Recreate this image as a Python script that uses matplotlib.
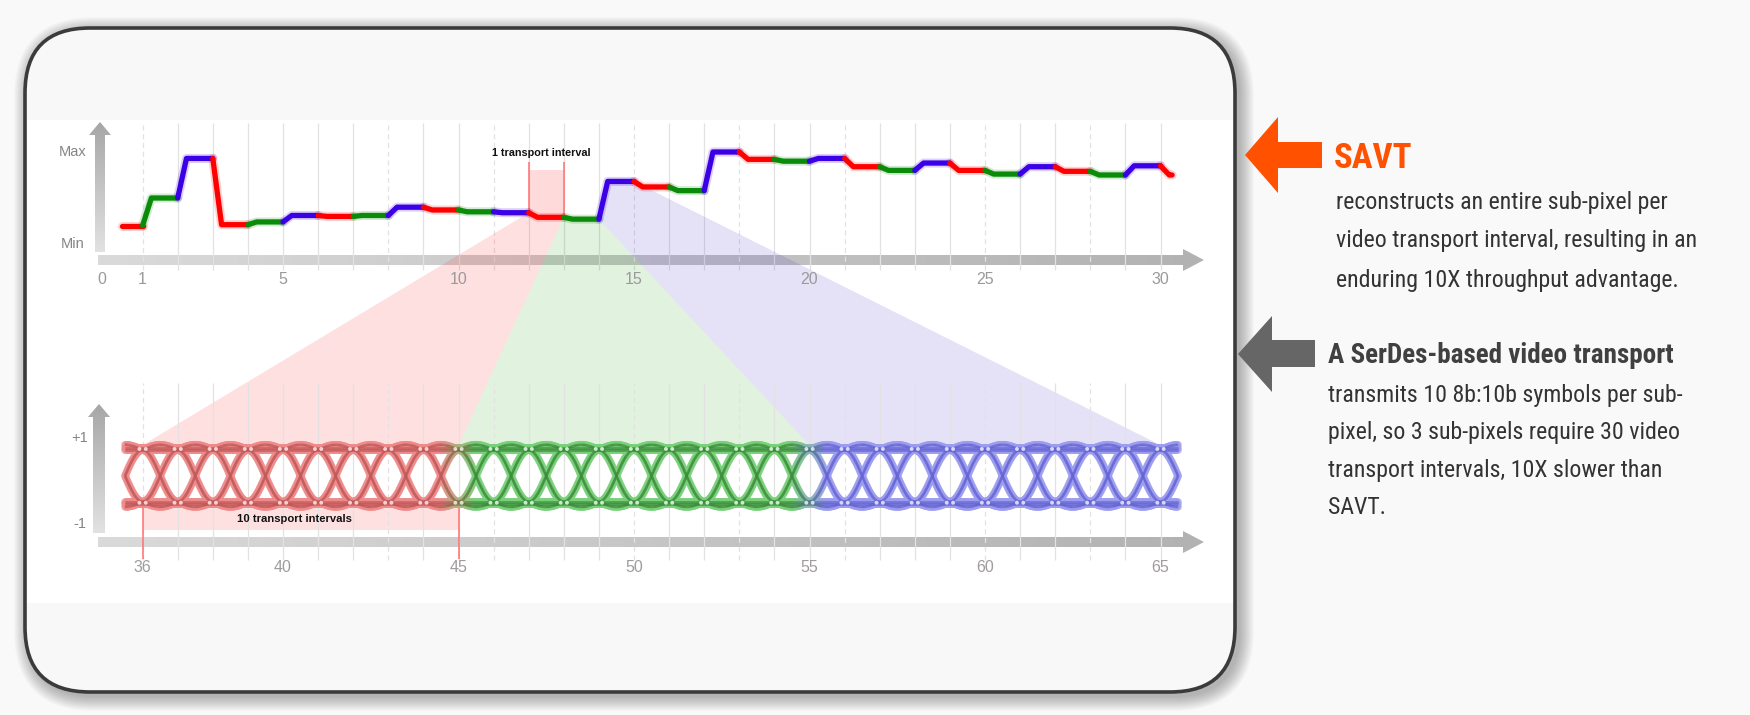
import numpy as np
import matplotlib.pyplot as plt
from matplotlib import font_manager
from matplotlib.patches import FancyBboxPatch, Polygon, Rectangle
from matplotlib.collections import LineCollection
from matplotlib.colors import to_rgb

# SAVT signal: one level per video transport interval (0 = Min, 100 = Max)
savt_levels = [20, 50, 93, 21, 24, 31, 30, 31, 40, 37, 35, 34, 29, 27, 68,
               62, 58, 100, 92, 90, 93, 84, 80, 88, 80, 76, 84, 79, 75, 85, 75]
savt_colors = ['#ff0000', '#0a8c0a', '#3c00e6']   # sub-pixels R, G, B
savt_ticks = [0, 1, 5, 10, 15, 20, 25, 30]
savt_grid = list(range(1, 31))
savt_dashed = [1, 8, 11, 15, 18, 21, 25, 28]
highlight = 12   # SAVT interval of the red sub-pixel that gets projected

# SerDes eye diagram: 10 transport intervals per sub-pixel
serdes_ticks = [36, 40, 45, 50, 55, 60, 65]
serdes_grid = list(range(36, 66))
serdes_dashed = [v + 35 for v in savt_dashed]
serdes_span = (35.5, 65.5)
serdes_bounds = [36, 45, 55, 65]   # red | green | blue
eye_core = ['#bf5858', '#3c8a3c', '#6464d2']
eye_glow = ['#ee8a8a', '#78d078', '#9c9cf0']
proj_colors = [('#ff2828', 0.14), ('#1ea014', 0.133), ('#3c1ec8', 0.13)]

savt_text = ['reconstructs an entire sub-pixel per',
             'video transport interval, resulting in an',
             'enduring 10X throughput advantage.']
serdes_text = ['transmits 10 8b:10b symbols per sub-',
               'pixel, so 3 sub-pixels require 30 video',
               'transport intervals, 10X slower than',
               'SAVT.']

# ---- layout (pixels) ----
W, H = 1750, 715
X0, XU = 107.5, 35.1          # pixel of interval 0, pixels per interval
TOP_Y0, TOP_YU = 244, 0.92    # pixel of level 0, pixels per level
BOT_Y0, BOT_YU = 475.85, 25.85
EYE_EDGE = 1.19
PINK_BOTTOM = -2.1


def has_font(name):
    try:
        font_manager.findfont(font_manager.FontProperties(family=name),
                              fallback_to_default=False)
        return True
    except ValueError:
        return False


chart_font = ['Liberation Sans', 'DejaVu Sans']
if has_font('Roboto Condensed'):
    side_font, sizes = 'Roboto Condensed', (25, 19.5, 17.2)
elif has_font('Liberation Sans Narrow'):
    side_font, sizes = 'Liberation Sans Narrow', (25.5, 20, 16.8)
else:
    side_font, sizes = 'Roboto', (22, 16.6, 13.8)

fig = plt.figure(figsize=(W / 100, H / 100), dpi=100, facecolor='#f9f9f9')

bg = fig.add_axes([0, 0, 1, 1], zorder=0)
bg.set_xlim(0, W)
bg.set_ylim(H, 0)
bg.set_axis_off()


def px_axes(l, t, r, b):
    ax = fig.add_axes([l / W, 1 - b / H, (r - l) / W, (b - t) / H], zorder=1)
    ax.set_axis_off()
    return ax


ax_top = px_axes(55, 115, 1215, 300)
ax_top.set_xlim((55 - X0) / XU, (1215 - X0) / XU)
ax_top.set_ylim((TOP_Y0 - 300) / TOP_YU, (TOP_Y0 - 115) / TOP_YU)

ax_bot = px_axes(55, 365, 1215, 600)
ax_bot.set_xlim((55 - X0) / XU + 35, (1215 - X0) / XU + 35)
ax_bot.set_ylim((BOT_Y0 - 600) / BOT_YU, (BOT_Y0 - 365) / BOT_YU)

# ---- card ----
card_box = (25, 28, 1210, 664)
for k in range(1, 16):
    sh = FancyBboxPatch((card_box[0] + 4 - k, card_box[1] + 4 - k),
                        card_box[2] + 2 * k, card_box[3] + 2 * k,
                        boxstyle='round,pad=0,rounding_size=%d' % (65 + k),
                        facecolor='black', edgecolor='none', alpha=0.02)
    bg.add_patch(sh)
card = FancyBboxPatch(card_box[:2], card_box[2], card_box[3],
                      boxstyle='round,pad=0,rounding_size=65',
                      facecolor='#f8f8f8', edgecolor='none')
bg.add_patch(card)
band = Rectangle((20, 120), 1220, 483, facecolor='white', edgecolor='none')
bg.add_patch(band)
band.set_clip_path(card)
bg.add_patch(FancyBboxPatch(card_box[:2], card_box[2], card_box[3],
                            boxstyle='round,pad=0,rounding_size=65',
                            facecolor='none', edgecolor='#3b3b3b', lw=2.6,
                            zorder=4))


def gradient_shape(verts, c_start, c_end, horizontal):
    poly = Polygon(verts, closed=True, facecolor='none', edgecolor='none')
    bg.add_patch(poly)
    xs, ys = zip(*verts)
    g = np.linspace(0, 1, 256)[:, None]
    cols = np.array(to_rgb(c_start)) * (1 - g) + np.array(to_rgb(c_end)) * g
    img = cols[None, :, :] if horizontal else cols[:, None, :]
    im = bg.imshow(img, extent=(min(xs), max(xs), max(ys), min(ys)),
                   aspect='auto', interpolation='bilinear', zorder=3)
    im.set_clip_path(poly)


# axis arrows
for yc in (260, 542):
    gradient_shape([(98, yc - 5), (1183, yc - 5), (1183, yc - 11), (1204, yc),
                    (1183, yc + 11), (1183, yc + 5), (98, yc + 5)],
                   '#dadada', '#b2b2b2', True)
gradient_shape([(95, 252), (95, 135), (89, 135), (100, 122), (111, 135),
                (105, 135), (105, 252)], '#a6a6a6', '#e2e2e2', False)
gradient_shape([(93, 533), (93, 417), (88, 417), (99, 404), (110, 417),
                (105, 417), (105, 533)], '#a6a6a6', '#e2e2e2', False)

# ---- right-hand text ----
bg.add_patch(Polygon([(1245, 155), (1278, 117), (1278, 142), (1322, 142),
                      (1322, 168), (1278, 168), (1278, 193)],
                     facecolor='#ff5100', edgecolor='none'))
bg.add_patch(Polygon([(1238, 354), (1272, 316), (1272, 340), (1315, 340),
                      (1315, 367), (1272, 367), (1272, 392)],
                     facecolor='#666666', edgecolor='none'))
bg.text(1334, 168, 'SAVT', family=side_font, fontsize=sizes[0],
        fontweight='bold', color='#ff5100', va='baseline')
for i, line in enumerate(savt_text):
    bg.text(1336, 208.5 + 39 * i, line, family=side_font, fontsize=sizes[2],
            color='#333333', va='baseline')
bg.text(1328, 363, 'A SerDes-based video transport', family=side_font,
        fontsize=sizes[1], fontweight='bold', color='#404040', va='baseline')
for i, line in enumerate(serdes_text):
    bg.text(1328, 402 + 37.5 * i, line, family=side_font, fontsize=sizes[2],
            color='#333333', va='baseline')

# ---- top panel: SAVT ----
for v in savt_grid:
    ax_top.vlines(v, -28, 131.5, color='#e2e2e2', lw=0.9,
                  linestyles=(0, (4, 3)) if v in savt_dashed else 'solid', zorder=1)
for v in savt_ticks:
    ax_top.text(v - (0.17 if v == 0 else 0), -39, str(v), ha='center', va='center',
                fontsize=11.5, color='#9a9a9a', family=chart_font)
ax_top.text(-1.0, 100, 'Max', ha='center', va='center', fontsize=10.5,
            color='#858585', family=chart_font)
ax_top.text(-1.0, 0, 'Min', ha='center', va='center', fontsize=10.5,
            color='#858585', family=chart_font)


def to_top(ax_from, pts):
    disp = ax_from.transData.transform(np.asarray(pts, dtype=float))
    return ax_top.transData.inverted().transform(disp)


# projections of the three SAVT sub-pixels onto the 30 SerDes intervals
for k in range(3):
    a = highlight + k
    top_pts = [(a, savt_levels[a - 1]), (a + 0.25, savt_levels[a]), (a + 1, savt_levels[a])]
    b0, b1 = serdes_bounds[k], serdes_bounds[k + 1]
    bot_pts = [(b1, EYE_EDGE), (b0, EYE_EDGE)]
    verts = np.vstack([to_top(ax_top, top_pts), to_top(ax_bot, bot_pts)])
    col, al = proj_colors[k]
    ax_top.add_patch(Polygon(verts, closed=True, facecolor=col, alpha=al,
                             edgecolor='none', clip_on=False, zorder=2))
# pink rectangle below the red eye section
ax_bot.add_patch(Rectangle((serdes_bounds[0], PINK_BOTTOM),
                           serdes_bounds[1] - serdes_bounds[0], PINK_BOTTOM * -1 - EYE_EDGE,
                           facecolor=proj_colors[0][0], alpha=0.14,
                           edgecolor='none', zorder=1))

# "1 transport interval" marker
a = highlight
ax_top.add_patch(Polygon([(a, savt_levels[a - 1]), (a + 0.25, savt_levels[a]),
                          (a + 1, savt_levels[a]), (a + 1, 80.4), (a, 80.4)],
                         facecolor='#ff2828', alpha=0.17, edgecolor='none', zorder=2))
ax_top.vlines([a, a + 1], [savt_levels[a - 1], savt_levels[a]], 89.5,
              color='#ff7070', lw=1.1, zorder=3)
ax_top.text(a + 0.37, 99, '1 transport interval', ha='center', va='center',
            fontsize=7.8, fontweight='bold', color='#111111', family=chart_font)

# the SAVT staircase
n = len(savt_levels)
for i, lv in enumerate(savt_levels):
    if i == 0:
        xs, ys = [0.4, 1], [lv, lv]
    else:
        end = i + 1 if i < n - 1 else i + 0.33
        xs, ys = [i, i + 0.25, end], [savt_levels[i - 1], lv, lv]
    ax_top.plot(xs, ys, color=savt_colors[i % 3], lw=6.5, alpha=0.18,
                solid_capstyle='round', zorder=4)
    ax_top.plot(xs, ys, color=savt_colors[i % 3], lw=3.8,
                solid_capstyle='round', solid_joinstyle='round', zorder=5)

# ---- bottom panel: SerDes eye diagram ----
for v in serdes_grid:
    ax_bot.vlines(v, -3.26, 3.59, color='#e2e2e2', lw=0.9,
                  linestyles=(0, (4, 3)) if v in serdes_dashed else 'solid', zorder=1)
for v in serdes_ticks:
    ax_bot.text(v, -3.53, str(v), ha='center', va='center', fontsize=11.5,
                color='#a09c9c', family=chart_font)
ax_bot.text(34.22, 1.48, '+1', ha='center', va='center', fontsize=10.5,
            color='#858585', family=chart_font)
ax_bot.text(34.22, -1.88, '-1', ha='center', va='center', fontsize=10.5,
            color='#858585', family=chart_font)
ax_bot.vlines([serdes_bounds[0], serdes_bounds[1]], -3.2, -1.05,
              color='#ff7070', lw=1.1, zorder=3)
ax_bot.text(40.32, -1.67, '10 transport intervals', ha='center', va='center',
            fontsize=8.1, fontweight='bold', color='#111111', family=chart_font)


def eye_color(x, palette):
    r, g, b = (np.array(to_rgb(c)) for c in palette)
    t1 = np.clip(x - (serdes_bounds[1] - 0.5), 0, 1)[:, None]
    t2 = np.clip(x - (serdes_bounds[2] - 0.5), 0, 1)[:, None]
    return r * (1 - t1) + g * (t1 - t2) + b * t2


t = np.linspace(0, 1, 41)
segs = []
for nn in range(int(serdes_span[0]), int(serdes_span[1]) + 1):
    x = nn + t
    keep = (x >= serdes_span[0]) & (x <= serdes_span[1])
    if keep.sum() < 2:
        continue
    xk, tk = x[keep], t[keep]
    bump = 1 + 0.2 * np.sin(np.pi * tk)
    for y in (-np.cos(np.pi * tk), np.cos(np.pi * tk), bump, -bump,
              np.ones_like(tk), -np.ones_like(tk),
              1.09 * np.ones_like(tk), -1.09 * np.ones_like(tk)):
        pts = np.column_stack([xk, y])
        segs.extend(np.stack([pts[:-1], pts[1:]], axis=1))
segs = np.array(segs)
mid_x = segs[:, :, 0].mean(axis=1)
ax_bot.add_collection(LineCollection(segs, colors=eye_color(mid_x, eye_glow),
                                     linewidths=5.6, alpha=0.6, zorder=4,
                                     capstyle='round'))
ax_bot.add_collection(LineCollection(segs, colors=eye_color(mid_x, eye_core),
                                     linewidths=1.9, alpha=0.9, zorder=5))
dots_x = np.array([v + d for v in range(36, 66) for d in (-0.09, 0.09)])
light = eye_color(dots_x, eye_glow) * 0.4 + 0.6
for yy in (1.04, -1.04):
    ax_bot.scatter(dots_x, np.full_like(dots_x, yy), s=8, c=light,
                   edgecolors='none', zorder=6)

bg.set_xlim(0, W)
bg.set_ylim(H, 0)
fig.savefig('out.png', dpi=100, facecolor=fig.get_facecolor())
